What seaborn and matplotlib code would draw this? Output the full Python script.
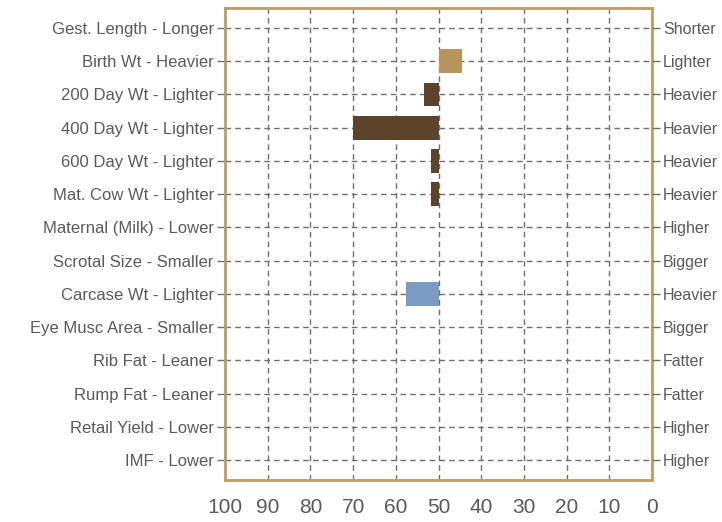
import matplotlib
matplotlib.use("Agg")
import matplotlib.pyplot as plt
import seaborn as sns
import pandas as pd

# --- Data ---
left_labels = ["Gest. Length - Longer", "Birth Wt - Heavier", "200 Day Wt - Lighter",
               "400 Day Wt - Lighter", "600 Day Wt - Lighter", "Mat. Cow Wt - Lighter",
               "Maternal (Milk) - Lower", "Scrotal Size - Smaller", "Carcase Wt - Lighter",
               "Eye Musc Area - Smaller", "Rib Fat - Leaner", "Rump Fat - Leaner",
               "Retail Yield - Lower", "IMF - Lower"]
right_labels = ["Shorter", "Lighter", "Heavier", "Heavier", "Heavier", "Heavier", "Higher",
                "Bigger", "Heavier", "Bigger", "Fatter", "Fatter", "Higher", "Higher"]
percentile = [50, 44.4, 53.4, 70.0, 51.7, 51.7, 50, 50, 57.5, 50, 50, 50, 50, 50]
group = ["calving", "calving", "growth", "growth", "growth", "growth", "maternal",
         "fertility", "carcase", "carcase", "carcase", "carcase", "carcase", "carcase"]
xtick_values = [100, 90, 80, 70, 60, 50, 40, 30, 20, 10, 0]

palette = {"calving": "#B9945C", "growth": "#5C432B", "maternal": "#5C432B",
           "fertility": "#5C432B", "carcase": "#7A9CC2"}
frame_color = "#C09C63"
text_color = "#5A5A5A"
grid_color = "#6E6E6E"

sns.set_style("white")
plt.rcParams['font.family'] = ['Liberation Sans', 'DejaVu Sans']

df = pd.DataFrame({"label": left_labels, "pct": percentile, "group": group})
# bars grow from the 50th percentile
df["delta"] = df["pct"] - 50

fig = plt.figure(figsize=(7.22, 5.22), dpi=100)
ax = fig.add_axes([0.3116, 0.0805, 0.5915, 0.904])

sns.barplot(data=df, x="delta", y="label", hue="group", palette=palette,
            dodge=False, legend=False, width=0.72, saturation=1, linewidth=0,
            ax=ax, zorder=3)

ax.set_xlim(50, -50)
ax.set_ylim(len(left_labels) - 0.4, -0.6)
ax.set_xticks([v - 50 for v in xtick_values])
ax.set_xticklabels([str(v) for v in xtick_values], fontsize=15, color=text_color)
ax.set_yticks(range(len(left_labels)))
ax.set_yticklabels(left_labels, fontsize=12, color=text_color)
ax.set_xlabel("")
ax.set_ylabel("")

ax.grid(True, linestyle=(0, (4, 3)), color=grid_color, linewidth=1, zorder=0)
ax.tick_params(axis="y", length=6, width=1, color=grid_color, pad=2)
ax.tick_params(axis="x", length=10, width=1, color=grid_color, pad=3)
for s in ax.spines.values():
    s.set_color(frame_color)
    s.set_linewidth(2)
    s.set_zorder(4)

ax2 = ax.twinx()
ax2.set_ylim(ax.get_ylim())
ax2.set_yticks(range(len(right_labels)))
ax2.set_yticklabels(right_labels, fontsize=11.5, color=text_color)
ax2.tick_params(axis="y", length=6, width=1, color=grid_color, pad=2)
for s in ax2.spines.values():
    s.set_visible(False)

fig.savefig("out.png", dpi=100)
